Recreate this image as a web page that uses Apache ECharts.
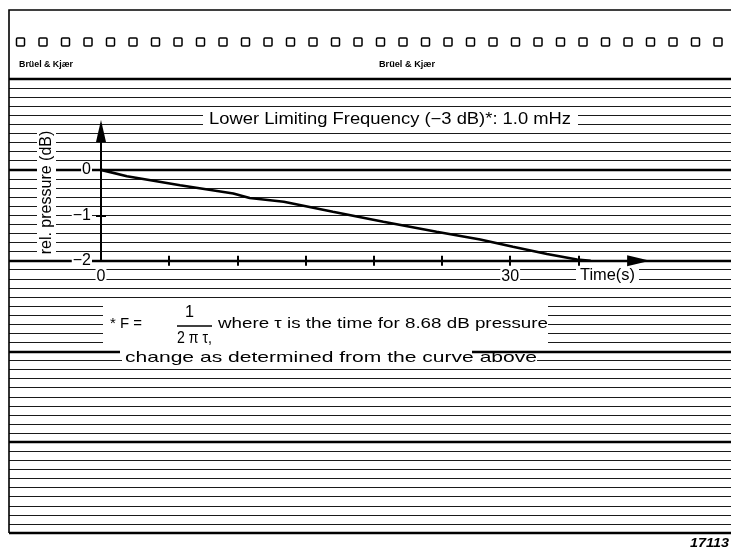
<!DOCTYPE html>
<html><head><meta charset="utf-8">
<script src="https://cdn.jsdelivr.net/npm/echarts@6/dist/echarts.min.js"></script>
<style>html,body{margin:0;padding:0;background:#fff}#c{width:731px;height:551px}</style>
</head><body><div id="c"></div>
<script>
// ---- data ----
const timeSec       = [0, 1.9, 5.8, 9.7, 10.9, 13.4, 17.0, 20.7, 24.6, 27.8, 30.2, 32.7, 34.9, 35.9];
const relPressureDb = [0, -0.14, -0.34, -0.52, -0.62, -0.70, -0.92, -1.14, -1.36, -1.53, -1.69, -1.85, -1.97, -2.0];
const xTickValues  = [5, 10, 15, 20, 25, 30, 35];
const xLabelValues = [0, 30];
const yTickValues  = [-1];
const yLabelValues = [-2, -1, 0];
const titleText  = 'Lower Limiting Frequency (\u22123 dB)*: 1.0 mHz';
const yNameText  = 'rel. pressure (dB)';
const xNameText  = 'Time(s)';
const noteStar   = '* F =';
const noteNum    = '1';
const noteDen    = '2 \u03c0 \u03c4,';
const noteLine1  = 'where \u03c4 is the time for 8.68 dB pressure';
const noteLine2  = 'change as determined from the curve above';
const brandText  = 'Br\u00fcel & Kj\u00e6r';
const figNumber  = '17113';

const FF = '"Liberation Sans", Arial, Helvetica, sans-serif';
const ctx = document.createElement('canvas').getContext('2d');
function fit(text, font, w){ ctx.font = font; return w / ctx.measureText(text).width; }
function txt(text, left, right, baseline, size, weight, style){
  const font = (style||'normal') + ' ' + (weight||'normal') + ' ' + size + 'px ' + FF;
  return { type:'text', x:left, y:baseline - 0.35*size, scaleX: fit(text, font, right-left), z:10,
    style:{ text:text, font:font, fill:'#000', textAlign:'left', align:'left', textVerticalAlign:'middle', verticalAlign:'middle' } };
}
function wrect(x, y, w, h){ return { type:'rect', z:1, shape:{x:x, y:y, width:w, height:h}, style:{fill:'#fff'} }; }

const graphics = [];
// sprocket squares
for (let i = 0; i < 32; i++) {
  graphics.push({ type:'rect', z:5, shape:{ x:16.5 + i*22.5, y:38, width:8, height:8, r:1 }, style:{ fill:'#fff', stroke:'#000', lineWidth:1.5 } });
}
// frame
graphics.push({ type:'polyline', z:5, shape:{ points:[[9,533],[9,10],[731,10]] }, style:{ stroke:'#000', lineWidth:1.6, fill:null } });
// white gaps in the ruling
graphics.push(wrect(203,110,375,18));
graphics.push(wrect(37,126,19,133));
graphics.push(wrect(576,266,63,18));
graphics.push(wrect(103,301,445,46));
graphics.push(wrect(120,348,352,7));
graphics.push(wrect(122,356,415,10));
// texts
graphics.push(txt(brandText, 19, 73, 68, 9, 'bold'));
graphics.push(txt(brandText, 379, 435, 68, 9, 'bold'));
graphics.push(txt(titleText, 209, 571, 125, 16));
graphics.push(txt(xNameText, 580, 635, 281, 16));
graphics.push(txt(noteStar, 110, 142, 329, 15));
graphics.push(txt(noteNum, 185, 194, 318, 16));
graphics.push(txt(noteDen, 177, 212, 344, 16));
graphics.push({ type:'line', z:10, shape:{x1:177, y1:326, x2:212, y2:326}, style:{stroke:'#000', lineWidth:1.3} });
graphics.push(txt(noteLine1, 218, 548, 329, 15));
graphics.push(txt(noteLine2, 125, 537, 363, 15));
graphics.push(txt(figNumber, 690, 729, 548, 12, 'bold', 'italic'));
graphics.push({ type:'text', z:10, x:47, y:192.5, rotation:Math.PI/2,
  style:{ text:yNameText, font:'16px ' + FF, fill:'#000', textAlign:'center', align:'center', textVerticalAlign:'middle', verticalAlign:'middle' } });

const labelStyle = { fontSize:16, fontFamily:FF, color:'#000', backgroundColor:'#fff', padding:[0,1] };
const tickStyle = { color:'#000', width:2 };

const option = {
  animation:false,
  grid:[
    { left:9, right:0, top:79, bottom:18 },
    { left:101, right:84.4, top:124.4, bottom:290.2 }
  ],
  xAxis:[
    { gridIndex:0, type:'value', min:0, max:1, show:false },
    { gridIndex:1, type:'value', min:0, max:40, interval:5, z:3,
      axisLine:{ show:true, onZero:false, symbol:['none','triangle'], symbolSize:[11,23], symbolOffset:[0,-8], lineStyle:{color:'#000', width:2} },
      axisTick:{ show:true, customValues:xTickValues, length:5, lineStyle:tickStyle },
      axisLabel:Object.assign({ customValues:xLabelValues, margin:8 }, labelStyle),
      splitLine:{ show:false } },
    { gridIndex:1, type:'value', min:0, max:40, interval:5, position:'bottom', z:3,
      axisLine:{ show:false, onZero:false },
      axisTick:{ show:true, inside:true, customValues:xTickValues, length:5, lineStyle:tickStyle },
      axisLabel:{ show:false }, splitLine:{ show:false } }
  ],
  yAxis:[
    { gridIndex:0, type:'value', min:-8, max:2, interval:0.2, z:0,
      axisLine:{show:false}, axisTick:{show:false}, axisLabel:{show:false},
      splitLine:{ show:true, lineStyle:{ color:'#1a1a1a', width:1.2 } } },
    { gridIndex:0, type:'value', min:-8, max:2, interval:2, z:0,
      axisLine:{show:false}, axisTick:{show:false}, axisLabel:{show:false},
      splitLine:{ show:true, lineStyle:{ color:'#000', width:2.4 } } },
    { gridIndex:1, type:'value', min:-2, max:1, interval:1, position:'left', z:3,
      axisLine:{ show:true, onZero:false, symbol:['none','triangle'], symbolSize:[10,22], symbolOffset:[0,-6.6], lineStyle:{color:'#000', width:2} },
      axisTick:{ show:true, customValues:yTickValues, length:5, lineStyle:tickStyle },
      axisLabel:Object.assign({ customValues:yLabelValues, margin:9,
        formatter:function(v){ return v === 0 ? '0' : '\u2212' + Math.abs(v); } }, labelStyle),
      splitLine:{ show:false } },
    { gridIndex:1, type:'value', min:-2, max:1, interval:1, position:'left', z:3,
      axisLine:{ show:false, onZero:false },
      axisTick:{ show:true, inside:true, customValues:yTickValues, length:5, lineStyle:tickStyle },
      axisLabel:{ show:false }, splitLine:{ show:false } }
  ],
  series:[{
    type:'line', xAxisIndex:1, yAxisIndex:2, z:4, clip:false,
    data: timeSec.map(function(t, i){ return [t, relPressureDb[i]]; }),
    showSymbol:false, symbol:'none',
    lineStyle:{ color:'#000', width:2.6 }
  }],
  graphic: graphics
};
const chart = echarts.init(document.getElementById('c'), null, { renderer:'canvas' });
chart.setOption(option);
</script>
</body></html>
